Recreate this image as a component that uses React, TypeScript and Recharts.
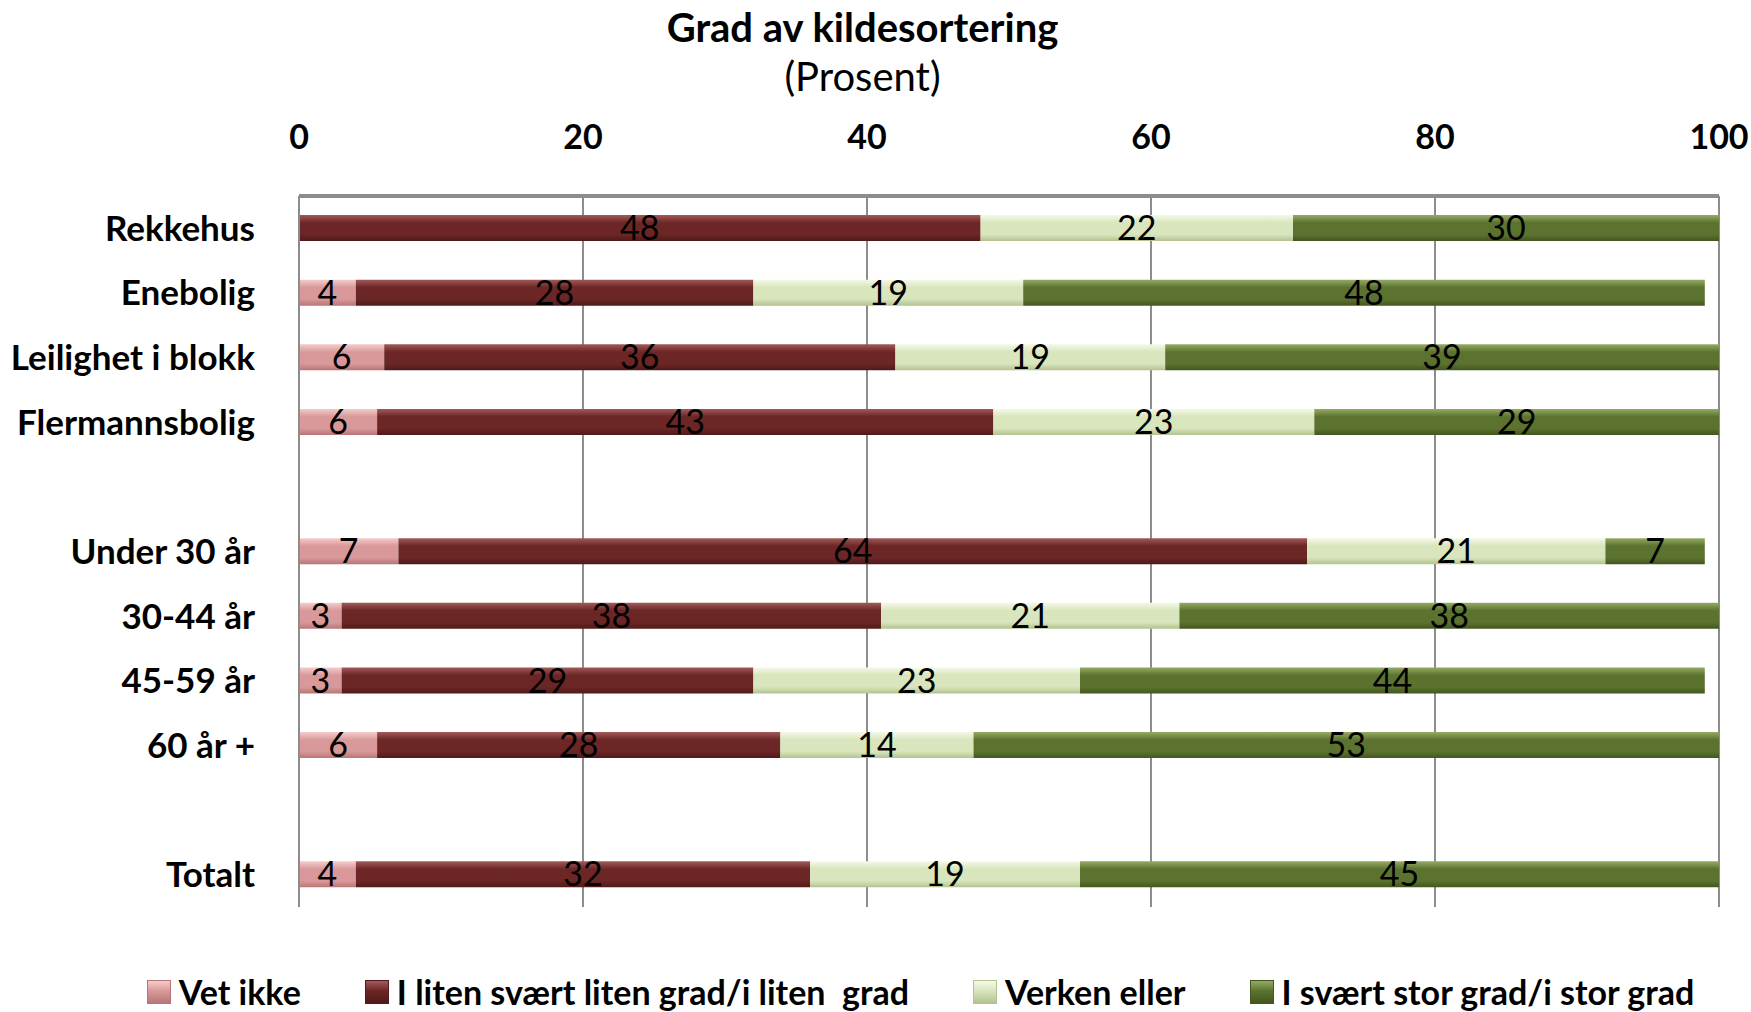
import { BarChart, Bar, XAxis, YAxis, CartesianGrid, LabelList, Legend } from "recharts"

const categories = [
  "Rekkehus",
  "Enebolig",
  "Leilighet i blokk",
  "Flermannsbolig",
  " ",
  "Under 30 år",
  "30-44 år",
  "45-59 år",
  "60 år +",
  "  ",
  "Totalt",
]

const vetIkke = [0, 4, 6, 5.5, null, 7, 3, 3, 5.5, null, 4]
const liten = [48, 28, 36, 43.4, null, 64, 38, 29, 28.4, null, 32]
const verken = [22, 19, 19, 22.6, null, 21, 21, 23, 13.6, null, 19]
const stor = [30, 48, 39, 28.5, null, 7, 38, 44, 52.5, null, 45]

const xTicks = [0, 20, 40, 60, 80, 100]

const series = [
  { key: "vet", name: "Vet ikke", top: "#f4cccb", mid: "#d9999a", bot: "#b87575" },
  { key: "liten", name: "I liten svært liten grad/i liten  grad", top: "#a25a59", mid: "#6b2625", bot: "#4f1a19" },
  { key: "verken", name: "Verken eller", top: "#f4f9e6", mid: "#d8e5bd", bot: "#b3c28f" },
  { key: "stor", name: "I svært stor grad/i stor grad", top: "#95ab64", mid: "#5c7330", bot: "#43561f" },
]

const data = categories.map((name, i) => ({
  name,
  vet: vetIkke[i],
  liten: liten[i],
  verken: verken[i],
  stor: stor[i],
}))

const font = "Lato, sans-serif"
const grid = "#8c8c8c"

const fmt = (v: any) => (v ? Math.round(Number(v)) : "")

function LegendContent() {
  return (
    <div style={{ display: "flex", justifyContent: "center", gap: 64, paddingLeft: 90, fontFamily: font, fontWeight: 700, fontSize: 34, color: "#000", lineHeight: "40px" }}>
      {series.map((s) => (
        <div key={s.key} style={{ display: "flex", alignItems: "center", gap: 8 }}>
          <div
            style={{
              width: 22,
              height: 22,
              background: `linear-gradient(${s.top}, ${s.mid} 45%, ${s.bot})`,
              border: `1px solid ${s.bot}`,
            }}
          />
          <span style={{ whiteSpace: "pre" }}>{s.name}</span>
        </div>
      ))}
    </div>
  )
}

export default function App() {
  return (
    <div style={{ position: "absolute", left: 0, top: 0, width: 1751, height: 1012, background: "#fff", fontFamily: font }}>
      <div style={{ position: "absolute", left: 0, width: 1751, top: 4, textAlign: "center" }}>
        <div style={{ position: "relative", left: -13, fontWeight: 700, fontSize: 40, lineHeight: "46px" }}>Grad av kildesortering</div>
        <div style={{ position: "relative", left: -13, fontSize: 40, lineHeight: "52px" }}>(Prosent)</div>
      </div>
      <BarChart
        width={1751}
        height={1012}
        data={data}
        layout="vertical"
        barSize={26}
        margin={{ top: 0, right: 32, bottom: 65, left: 0 }}
      >
        <defs>
          {series.map((s) => (
            <linearGradient key={s.key} id={`g-${s.key}`} x1="0" y1="0" x2="0" y2="1">
              <stop offset="0%" stopColor={s.top} />
              <stop offset="30%" stopColor={s.mid} />
              <stop offset="75%" stopColor={s.mid} />
              <stop offset="100%" stopColor={s.bot} />
            </linearGradient>
          ))}
        </defs>
        <CartesianGrid vertical horizontal={false} stroke={grid} strokeWidth={2} />
        <XAxis
          type="number"
          orientation="top"
          domain={[0, 100]}
          ticks={xTicks}
          height={196}
          tickSize={0}
          tickMargin={47}
          tickLine={false}
          axisLine={{ stroke: grid, strokeWidth: 4 }}
          tick={{ fill: "#000", fontSize: 34, fontWeight: 700, fontFamily: font }}
        />
        <YAxis
          type="category"
          dataKey="name"
          width={299}
          interval={0}
          tickSize={0}
          tickMargin={44}
          tickLine={false}
          axisLine={{ stroke: grid, strokeWidth: 2 }}
          tick={{ fill: "#000", fontSize: 35, fontWeight: 700, fontFamily: font }}
        />
        <Legend verticalAlign="bottom" wrapperStyle={{ top: 972, left: 0, width: 1751 }} content={LegendContent} />
        {series.map((s) => (
          <Bar key={s.key} dataKey={s.key} name={s.name} stackId="a" fill={`url(#g-${s.key})`} isAnimationActive={false}>
            <LabelList dataKey={s.key} position="center" formatter={fmt} style={{ fill: "#000", fontSize: 34, fontFamily: font }} />
          </Bar>
        ))}
      </BarChart>
    </div>
  )
}
